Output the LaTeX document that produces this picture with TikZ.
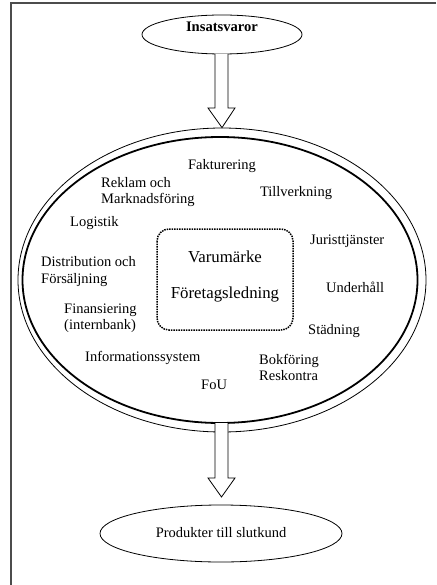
\documentclass[tikz,border=0pt]{standalone}
\usepackage{fontspec}
\setmainfont{Liberation Serif}
\usetikzlibrary{shapes.geometric,calc}
\begin{document}
\begin{tikzpicture}[x=1pt,y=-1pt,
  lbl/.style={inner sep=0pt,font=\fontsize{14.5}{16.5}\selectfont,align=left},
  lblw/.style={lbl,anchor=west},
  big/.style={inner sep=0pt,font=\fontsize{16.8}{19}\selectfont},
  oval/.style={ellipse,draw,line width=0.8pt,inner sep=0pt},
  fatarrow/.style={draw,line width=0.8pt,fill=white,line join=miter}
]
\useasboundingbox (0,0) rectangle (436,585);
% frame
\draw[line width=1.5pt,black!70] (436,3) -- (11,3) -- (11,585);
% big ellipses
\node[oval,minimum width=408pt,minimum height=304pt] (outer) at (222,280) {};
\node[ellipse,draw,line width=1.8pt,minimum width=395pt,minimum height=286pt,inner sep=0pt] (inner) at (220,280) {};
% top and bottom ellipses
\node[oval,minimum width=160pt,minimum height=39pt] (in) at (222,34.5) {};
\node[inner sep=0pt,font=\fontsize{14.6}{16}\selectfont\bfseries] at (222,27) {Insatsvaror};
\node[oval,minimum width=242pt,minimum height=57pt] (out) at (221,533.5) {};
\node[lbl] at (221,533) {Produkter till slutkund};
% arrows
\coordinate (a1s) at (221.5,54);
\coordinate (a1t) at (outer.north);
\draw[fatarrow] ($(a1s)+(-6.5,0)$) -- ($(a1s)+(-6.5,54)$) -- ($(a1s)+(-13.5,54)$) -- (a1t)
  -- ($(a1s)+(13.5,54)$) -- ($(a1s)+(6.5,54)$) -- ($(a1s)+(6.5,0)$);
\coordinate (a2s) at (221.5,423);
\coordinate (a2t) at (221.5,497);
\draw[fatarrow] ($(a2s)+(-6.5,0)$) -- ($(a2s)+(-6.5,55)$) -- ($(a2s)+(-13.5,55)$) -- (a2t)
  -- ($(a2s)+(13.5,55)$) -- ($(a2s)+(6.5,55)$) -- ($(a2s)+(6.5,0)$);
% centre box
\draw[densely dotted,line width=1.5pt,rounded corners=12pt] (157,229) rectangle (293,330);
\node[big] (vm) at (225,257) {Varumärke};
\node[big] (fl) at (225,294) {Företagsledning};
% labels
\node[lbl] (fak) at (222,166) {Fakturering};
\node[lblw] (rek) at (101,192) {Reklam och\\Marknadsföring};
\node[lbl] (til) at (296,193) {Tillverkning};
\node[lblw] (log) at (70,223) {Logistik};
\node[lblw] (jur) at (310,241) {Juristtjänster};
\node[lblw] (dis) at (41,271.5) {Distribution och\\Försäljning};
\node[lblw] (und) at (326,287) {Underhåll};
\node[lblw] (fin) at (64,318) {Finansiering\\(internbank)};
\node[lblw] (std) at (308,331) {Städning};
\node[lblw] (inf) at (85,358) {Informationssystem};
\node[lblw] (bok) at (259,367.5) {Bokföring\\Reskontra};
\node[lblw] (fou) at (201,385) {FoU};
\end{tikzpicture}
\end{document}
